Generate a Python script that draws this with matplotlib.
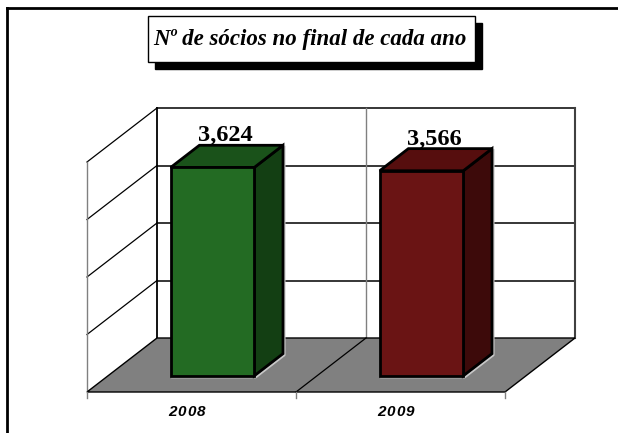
import matplotlib
matplotlib.use("Agg")
import matplotlib.pyplot as plt
from matplotlib.patches import Polygon, Rectangle
from matplotlib.lines import Line2D
from matplotlib.transforms import IdentityTransform

# ---- data ----
categories = ["2008", "2009"]
values = [3624, 3566]
value_labels = ["3,624", "3,566"]
y_max = 4000
grid_step = 1000
title = "Nº de sócios no final de cada ano"

# ---- style ----
front_colors = ["#236b23", "#6a1414"]
side_colors = ["#133f13", "#3d0a0a"]
top_colors = ["#1a521a", "#560e0e"]
floor_color = "#808080"

W, H = 618, 433
fig = plt.figure(figsize=(W / 100, H / 100), dpi=100)
fig.patch.set_facecolor("white")

# front plane of the 3-D box (pixels)
left_px, right_px, floor_px, top_px = 87, 505, 392, 162
ax = fig.add_axes([left_px / W, 1 - floor_px / H,
                   (right_px - left_px) / W, (floor_px - top_px) / H])
ax.set_xlim(0, len(categories))
ax.set_ylim(0, y_max)
ax.axis("off")

DX, DY = 70, 54  # depth offset in pixels
ID = IdentityTransform()


def P(x, v, d):
    px, py = ax.transData.transform((x, v))
    return (px + DX * d, py + DY * d)


def poly(pts, fc, ec="black", lw=1.0, z=1):
    ax.add_patch(Polygon(pts, closed=True, facecolor=fc, edgecolor=ec,
                         linewidth=lw, transform=ID, clip_on=False, zorder=z,
                         joinstyle="miter"))


def line(p0, p1, color="black", lw=1.0, z=2):
    ax.add_line(Line2D([p0[0], p1[0]], [p0[1], p1[1]], color=color,
                       linewidth=lw, transform=ID, clip_on=False, zorder=z))


n = len(categories)
ticks = list(range(grid_step, y_max + 1, grid_step))

# back wall
poly([P(0, 0, 1), P(n, 0, 1), P(n, y_max, 1), P(0, y_max, 1)], "white",
     ec="none", z=1)
for v in ticks:
    line(P(0, v, 1), P(n, v, 1), lw=1.1, z=2)
line(P(0, 0, 1), P(0, y_max, 1), lw=1.3, z=2)
line(P(n, 0, 1), P(n, y_max, 1), color="#404040", lw=1.5, z=2)
for i in range(1, n):
    line(P(i, 0, 1), P(i, y_max, 1), color="#808080", lw=1.0, z=2)

# left wall
for v in ticks:
    line(P(0, v, 0), P(0, v, 1), lw=0.9, z=2)
line(P(0, 0, 0), P(0, y_max, 0), color="#808080", lw=1.0, z=2)

# floor
poly([P(0, 0, 0), P(n, 0, 0), P(n, 0, 1), P(0, 0, 1)], floor_color,
     ec="black", lw=1.0, z=3)
for i in range(1, n):
    line(P(i, 0, 0), P(i, 0, 1), lw=0.9, z=3)

# category ticks
for i in range(n + 1):
    x0, y0 = P(i, 0, 0)
    line((x0, y0), (x0, y0 - 6), color="#808080", lw=1.0, z=3)

# bars
half_w = 0.2
d0, d1 = 0.30, 0.71
for i, v in enumerate(values):
    xc = i + 0.5
    xa, xb = xc - half_w, xc + half_w
    # light shadow outline
    sx, sy = 1.5, -1.5
    sh_pts = [P(xa, 0, d0), P(xb, 0, d0), P(xb, 0, d1), P(xb, v, d1)]
    ax.add_line(Line2D([p[0] + sx for p in sh_pts], [p[1] + sy for p in sh_pts],
                       color="#c8c8c8", linewidth=1.5, transform=ID,
                       clip_on=False, zorder=4))
    # side
    poly([P(xb, 0, d0), P(xb, 0, d1), P(xb, v, d1), P(xb, v, d0)],
         side_colors[i], lw=2.0, z=5)
    # top
    poly([P(xa, v, d0), P(xb, v, d0), P(xb, v, d1), P(xa, v, d1)],
         top_colors[i], lw=2.0, z=5)
    # front
    poly([P(xa, 0, d0), P(xb, 0, d0), P(xb, v, d0), P(xa, v, d0)],
         front_colors[i], lw=2.0, z=6)
    # value label
    lx, ly = P(xc, v, 0.5)
    ax.text(lx - 1, ly + 21, value_labels[i], transform=ID, ha="center",
            va="center", fontsize=17.5, fontweight="bold",
            family="Liberation Serif", color="black", zorder=8)

# category labels (letter-spaced)
spacing = 9.6
for i, cat in enumerate(categories):
    cx, cy = P(i + 0.5, 0, 0)
    cx -= 5
    ncar = len(cat)
    for k, ch in enumerate(cat):
        ax.text(cx + (k - (ncar - 1) / 2) * spacing, cy - 20, ch,
                transform=ID, ha="center", va="center", fontsize=11,
                fontweight="bold", fontstyle="italic",
                family="Liberation Sans", color="black", zorder=8)

# title box with shadow
tb_l, tb_t, tb_r, tb_b = 148, 16, 475, 62
sh = 7
fig.add_artist(Rectangle((tb_l + sh, H - tb_b - sh), tb_r - tb_l, tb_b - tb_t,
                         facecolor="black", edgecolor="black", transform=ID,
                         zorder=9))
fig.add_artist(Rectangle((tb_l, H - tb_b), tb_r - tb_l, tb_b - tb_t,
                         facecolor="white", edgecolor="black", linewidth=1.0,
                         transform=ID, zorder=10))
fig.text((tb_l + tb_r) / 2 / W - 2 / W, 1 - (tb_t + tb_b) / 2 / H, title,
         ha="center", va="center", fontsize=16.5, fontweight="bold",
         fontstyle="italic", family="Liberation Serif", zorder=11)

# outer frame (top and left)
fig.add_artist(Line2D([7, 7], [0, H - 8], color="black", linewidth=2.0,
                      transform=ID))
fig.add_artist(Line2D([7, W], [H - 8, H - 8], color="black", linewidth=2.0,
                      transform=ID))

fig.savefig("out.png", dpi=100)
